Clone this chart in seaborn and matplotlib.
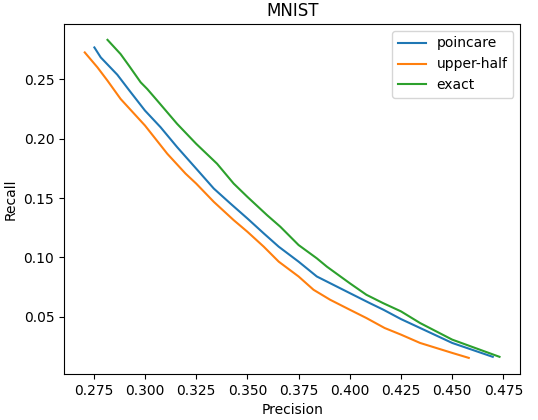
import matplotlib
matplotlib.use("Agg")
import matplotlib.pyplot as plt
import seaborn as sns
import pandas as pd

poincare_precision = [0.2753, 0.2784, 0.2865, 0.2922, 0.3000, 0.3076, 0.3157, 0.3250, 0.3336, 0.3417,
                      0.3500, 0.3580, 0.3653, 0.3750, 0.3839, 0.4000, 0.4097, 0.4164, 0.4250, 0.4326,
                      0.4500, 0.4698]
poincare_recall = [0.2769, 0.2685, 0.2539, 0.2410, 0.2237, 0.2097, 0.1929, 0.1748, 0.1580, 0.1454,
                   0.1328, 0.1202, 0.1090, 0.0964, 0.0839, 0.0699, 0.0615, 0.0559, 0.0480, 0.0419,
                   0.0279, 0.0162]

upper_precision = [0.2706, 0.2768, 0.2817, 0.2881, 0.3000, 0.3109, 0.3198, 0.3250, 0.3336, 0.3433,
                   0.3500, 0.3580, 0.3653, 0.3750, 0.3823, 0.3904, 0.4000, 0.4081, 0.4170, 0.4250,
                   0.4343, 0.4500, 0.4581]
upper_recall = [0.2727, 0.2601, 0.2489, 0.2335, 0.2111, 0.1873, 0.1706, 0.1622, 0.1468, 0.1314,
                0.1216, 0.1090, 0.0964, 0.0839, 0.0727, 0.0643, 0.0559, 0.0489, 0.0405, 0.0349,
                0.0279, 0.0195, 0.0153]

exact_precision = [0.2817, 0.2881, 0.2922, 0.2979, 0.3011, 0.3060, 0.3157, 0.3250, 0.3352, 0.3433,
                   0.3500, 0.3596, 0.3661, 0.3750, 0.3839, 0.3888, 0.4000, 0.4081, 0.4162, 0.4250,
                   0.4343, 0.4500, 0.4731]
exact_recall = [0.2833, 0.2713, 0.2615, 0.2475, 0.2419, 0.2321, 0.2125, 0.1957, 0.1789, 0.1622,
                0.1510, 0.1356, 0.1258, 0.1104, 0.0992, 0.0922, 0.0782, 0.0685, 0.0615, 0.0545,
                0.0447, 0.0307, 0.0162]

series_names = ["poincare", "upper-half", "exact"]

frames = []
for name, p, r in zip(series_names,
                      [poincare_precision, upper_precision, exact_precision],
                      [poincare_recall, upper_recall, exact_recall]):
    frames.append(pd.DataFrame({"Precision": p, "Recall": r, "method": name}))
df = pd.concat(frames, ignore_index=True)

fig = plt.figure(figsize=(5.38, 4.2), dpi=100)
ax = fig.add_axes([0.119, 0.110, 0.848, 0.833])
sns.lineplot(data=df, x="Precision", y="Recall", hue="method", sort=False,
             palette=["#1f77b4", "#ff7f0e", "#2ca02c"], ax=ax, estimator=None)
ax.set_title("MNIST")
ax.legend(loc="upper right")
ax.set_xticks([0.275, 0.300, 0.325, 0.350, 0.375, 0.400, 0.425, 0.450, 0.475])
ax.set_yticks([0.05, 0.10, 0.15, 0.20, 0.25])
fig.savefig("out.png", dpi=100)
